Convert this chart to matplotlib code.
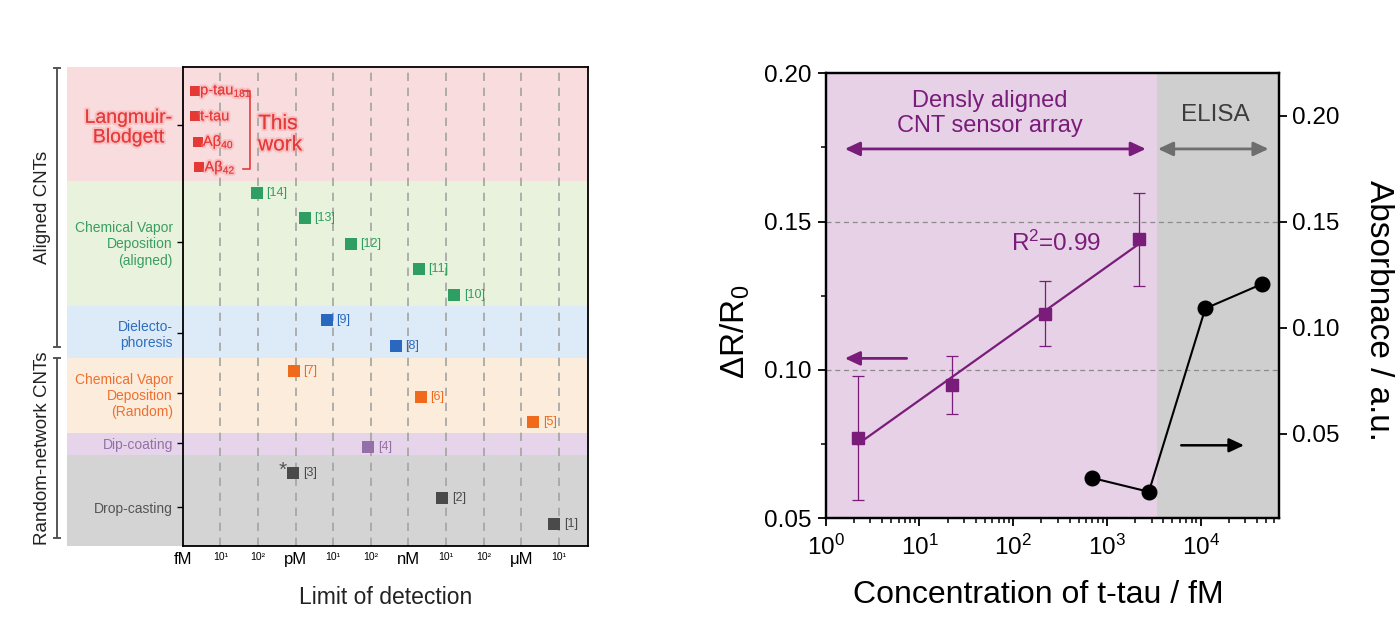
import numpy as np
import matplotlib
matplotlib.use('Agg')
import matplotlib.pyplot as plt
from matplotlib.patches import Rectangle
import matplotlib.transforms as mtransforms
import matplotlib.patheffects as pe
from matplotlib.ticker import NullLocator, MultipleLocator, LogLocator

plt.rcParams['font.family'] = ['Liberation Sans', 'DejaVu Sans']
plt.rcParams['mathtext.fontset'] = 'custom'
plt.rcParams['mathtext.rm'] = 'Liberation Sans'
plt.rcParams['mathtext.it'] = 'Liberation Sans:italic'
plt.rcParams['mathtext.bf'] = 'Liberation Sans:bold'

# ---------------- Left panel data ----------------
this_work_labels = [r'p-tau$_{181}$', 't-tau', r'Aβ$_{40}$', r'Aβ$_{42}$']
this_work_lod = [2.1, 2.1, 2.5, 2.75]          # fM
ref_labels = ['[14]', '[13]', '[12]', '[11]', '[10]', '[9]', '[8]',
              '[7]', '[6]', '[5]', '[4]', '[3]', '[2]', '[1]']
ref_lod = [93, 1740, 2.9e4, 1.87e6, 1.62e7, 6.7e3, 4.6e5,
           890, 2.1e6, 2.04e9, 8.4e4, 850, 7.8e6, 7.5e9]   # fM
ref_method = [1, 1, 1, 1, 1, 2, 2, 3, 3, 3, 4, 5, 5, 5]
methods = ['Langmuir-\nBlodgett', 'Chemical Vapor\nDeposition\n(aligned)',
           'Dielecto-\nphoresis', 'Chemical Vapor\nDeposition\n(Random)',
           'Dip-coating', 'Drop-casting']
lod_tick_labels = ['fM', '10¹', '10²', 'pM', '10¹', '10²', 'nM', '10¹', '10²', 'μM', '10¹']
group_labels = ['Aligned CNTs', 'Random-network CNTs']

# ---------------- Right panel data ----------------
conc = [2.2, 22, 220, 2200]                 # fM
dR = [0.077, 0.095, 0.119, 0.144]
dR_err = [0.021, 0.0097, 0.011, 0.0157]
elisa_conc = [700, 2800, 11200, 44800]      # fM
absorb = [0.029, 0.0225, 0.109, 0.1205]
elisa_start = 3400                          # fM

# ---------------- styles ----------------
band_colors = ['#f8dcde', '#e9f2dc', '#dcebf7', '#fcecdc', '#e6d4ea', '#d4d4d4']
text_colors = ['#e53a3a', '#3a9e62', '#2e6dbf', '#ee7030', '#9470a6', '#555555']
mark_colors = ['#e53935', '#2e9e62', '#2a68c0', '#f06a1c', '#9570a6', '#4a4a4a']
band_edges = [-0.95, 3.55, 8.45, 10.5, 13.45, 14.3, 17.85]
method_tick_pos = [1.33, 5.92, 9.49, 11.88, 13.84, 16.35]

fig = plt.figure(figsize=(14, 6.35), dpi=100)

# ================= Left panel =================
axL = fig.add_axes([0.1305, 0.1409, 0.2897, 0.7540])
axL.set_xscale('log')
axL.set_xlim(1, 10 ** 10.78)
axL.set_ylim(band_edges[-1], band_edges[0])
trans = mtransforms.blended_transform_factory(axL.transAxes, axL.transData)

for i in range(len(methods)):
    axL.add_patch(Rectangle((-0.285, band_edges[i]), 1.285,
                            band_edges[i + 1] - band_edges[i], transform=trans,
                            facecolor=band_colors[i], edgecolor='none',
                            clip_on=False, zorder=0))

for k in range(1, len(lod_tick_labels)):
    axL.axvline(10 ** k, color='#a3a3a3', ls=(0, (5, 4)), lw=1.2, zorder=1)

glow = [pe.withStroke(linewidth=3, foreground=(1.0, 0.55, 0.55, 0.35))]

# this work
tw_rows = np.arange(len(this_work_lod))
axL.scatter(this_work_lod, tw_rows, marker='s', s=62, color=mark_colors[0],
            zorder=3, linewidths=0)
for x, r, lbl in zip(this_work_lod, tw_rows, this_work_labels):
    t = axL.annotate(lbl, (x, r), xytext=(3.8, 0), textcoords='offset points',
                     va='center', ha='left', fontsize=10.5, color=text_colors[0], zorder=4)
    t.set_path_effects(glow)

# bracket "This work"
axL.plot([0.149, 0.166, 0.166, 0.149],
         [tw_rows[0], tw_rows[0], tw_rows[-1] + 0.06, tw_rows[-1] + 0.06],
         transform=trans, color=text_colors[0], lw=1.2, zorder=4)
t = axL.text(0.186, (tw_rows[0] + tw_rows[-1]) / 2 + 0.2, 'This\nwork', transform=trans,
             ha='left', va='center', fontsize=15, color=text_colors[0], zorder=4,
             linespacing=1.15)
t.set_path_effects(glow)

# references
ref_rows = np.arange(len(ref_lod)) + len(this_work_lod)
for x, r, lbl, m in zip(ref_lod, ref_rows, ref_labels, ref_method):
    axL.scatter([x], [r], marker='s', s=75, color=mark_colors[m], zorder=3, linewidths=0)
    axL.annotate(lbl, (x, r), xytext=(7, 0), textcoords='offset points',
                 va='center', ha='left', fontsize=9, color=mark_colors[m], zorder=4)
    if lbl == '[3]':
        axL.annotate('*', (x, r), xytext=(-7.5, 2), textcoords='offset points',
                     va='center', ha='center', fontsize=15, color='#555555', zorder=4)

# axes styling
axL.set_xticks([10 ** k for k in range(len(lod_tick_labels))])
axL.set_xticklabels(lod_tick_labels)
axL.xaxis.set_minor_locator(NullLocator())
for lbl in axL.get_xticklabels():
    if lbl.get_text().startswith('10'):
        lbl.set_fontsize(7.5)
    else:
        lbl.set_fontsize(12)
axL.tick_params(axis='x', length=0, pad=5)

axL.set_yticks(method_tick_pos)
axL.set_yticklabels(methods)
axL.tick_params(axis='y', length=4, width=1, pad=3)
for i, lbl in enumerate(axL.get_yticklabels()):
    lbl.set_color(text_colors[i])
    if i == 0:
        lbl.set_fontsize(14)
        lbl.set_multialignment('center')
        lbl.set_path_effects(glow)
    else:
        lbl.set_fontsize(10)
        lbl.set_multialignment('right')
for s in axL.spines.values():
    s.set_linewidth(1.3)
    s.set_color('black')
    s.set_zorder(5)

# group brackets
grp_spans = [(-0.9, 10.04), (10.47, 17.57)]
for (y0, y1), g in zip(grp_spans, group_labels):
    axL.plot([-0.31, -0.31], [y0, y1], transform=trans, color='#555555', lw=1.4, clip_on=False)
    for yy in (y0, y1):
        axL.plot([-0.318, -0.302], [yy, yy], transform=trans, color='#555555', lw=1.4, clip_on=False)
    axL.text(-0.346, (y0 + y1) / 2, g, transform=trans, rotation=90, ha='center',
             va='center', fontsize=13.5, color='#222222')

fig.text(385.5 / 1400, 1 - 597 / 635, 'Limit of detection', ha='center', va='center',
         fontsize=16.5, color='#222222')

# ================= Right panel =================
purple = '#7a1c7a'
axR = fig.add_axes([0.5898, 0.1838, 0.3240, 0.7008])
axR.set_xscale('log')
axR.set_xlim(1, 6.9e4)
axR.set_ylim(0.05, 0.20)
axR.axvspan(1, elisa_start, color='#e6d1e6', zorder=0, lw=0)
axR.axvspan(elisa_start, 6.9e4, color='#cfcfcf', zorder=0, lw=0)
for yv in (0.10, 0.15):
    axR.axhline(yv, color='#8c8c8c', ls=(0, (4, 3)), lw=0.9, zorder=1)

axR.errorbar(conc, dR, yerr=dR_err, fmt='none', ecolor=purple, elinewidth=0.9,
             capsize=4.2, capthick=0.9, zorder=3)
coef = np.polyfit(np.log10(conc), dR, 1)
xfit = np.array([conc[0], conc[-1]])
axR.plot(xfit, np.polyval(coef, np.log10(xfit)), color=purple, lw=1.6, zorder=3)
axR.plot(conc, dR, 's', color=purple, ms=8.5, zorder=4)

ax2 = axR.twinx()
ax2.set_ylim(0.01, 0.22)
ax2.plot(elisa_conc, absorb, '-', color='black', lw=1.5, zorder=3)
ax2.plot(elisa_conc, absorb, 'o', color='black', ms=10.5, zorder=4)
ax2.set_yticks([0.05, 0.10, 0.15, 0.20])
ax2.set_yticklabels(['0.05', '0.10', '0.15', '0.20'])
ax2.tick_params(axis='y', labelsize=17.5, length=6, width=1.3, pad=3)
ax2.set_ylabel('Absorbnace / a.u.', rotation=270, fontsize=24, va='center')
ax2.yaxis.set_label_coords(1.2176, 0.466)

axR.set_yticks([0.05, 0.10, 0.15, 0.20])
axR.set_yticklabels(['0.05', '0.10', '0.15', '0.20'])
axR.yaxis.set_minor_locator(MultipleLocator(0.025))
axR.xaxis.set_major_locator(LogLocator(base=10, numticks=10))
axR.xaxis.set_minor_locator(LogLocator(base=10, subs=np.arange(2, 10), numticks=20))
axR.tick_params(axis='both', which='major', labelsize=17.5, length=6, width=1.3, pad=4)
axR.tick_params(axis='both', which='minor', length=3.5, width=1.1)
axR.tick_params(axis='x', which='major', pad=6)
axR.set_xlim(1, 6.9e4)
axR.set_xlabel('Concentration of t-tau / fM', fontsize=23, va='center')
axR.xaxis.set_label_coords(0.468, -0.172)
axR.set_ylabel('ΔR/R$_0$', fontsize=24, va='center')
axR.yaxis.set_label_coords(-0.2, 0.42)
for ax in (axR, ax2):
    for s in ax.spines.values():
        s.set_linewidth(1.6)
        s.set_color('black')

# annotations
arrow_y = 0.1745
axR.annotate('', xy=(1.6, arrow_y), xytext=(2600, arrow_y),
             arrowprops=dict(arrowstyle='<|-|>,head_length=0.9,head_width=0.42',
                             color=purple, lw=2, shrinkA=0, shrinkB=0))
axR.annotate('', xy=(3500, arrow_y), xytext=(5.3e4, arrow_y),
             arrowprops=dict(arrowstyle='<|-|>,head_length=0.9,head_width=0.42',
                             color='#6e6e6e', lw=2, shrinkA=0, shrinkB=0))
axR.text(56, 0.1865, 'Densly aligned\nCNT sensor array', ha='center', va='center',
         fontsize=17, color=purple, linespacing=1.2)
axR.text(1.43e4, 0.186, 'ELISA', ha='center', va='center', fontsize=17.5, color='#3c3c3c')
axR.text(287, 0.1428, 'R$^2$=0.99', ha='center', va='center', fontsize=17.5, color=purple)
axR.annotate('', xy=(1.6, 0.1039), xytext=(7.3, 0.1039),
             arrowprops=dict(arrowstyle='-|>,head_length=0.9,head_width=0.42',
                             color=purple, lw=2, shrinkA=0, shrinkB=0))
axR.annotate('', xy=(2.9e4, 0.0746), xytext=(6.2e3, 0.0746),
             arrowprops=dict(arrowstyle='-|>,head_length=0.9,head_width=0.42',
                             color='black', lw=1.8, shrinkA=0, shrinkB=0))

fig.savefig('out.png', dpi=100)
